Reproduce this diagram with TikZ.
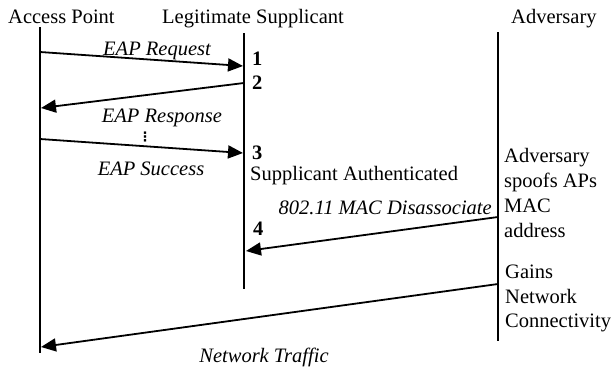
\documentclass[tikz,border=0pt]{standalone}
\usepackage{fontspec}
\setmainfont{Liberation Serif}
\newfontfamily\symfont{DejaVu Sans}
\usetikzlibrary{arrows.meta}
\begin{document}
\begin{tikzpicture}[x=1pt,y=-1pt,
  txt/.style={inner sep=0pt,font=\fontsize{20.5}{25}\selectfont},
  lbl/.style={txt,font=\fontsize{20.5}{25}\selectfont\itshape},
  num/.style={txt,font=\fontsize{20.5}{25}\selectfont\bfseries},
  life/.style={line width=2.6pt},
  msg/.style={line width=1.8pt,-{Triangle[length=15pt,width=13pt]}}]
\useasboundingbox (0,0) rectangle (616,367);
% headers
\node[txt,anchor=base west] (hap) at (8,23) {Access Point};
\node[txt,anchor=base west] (hsu) at (162,23) {Legitimate Supplicant};
\node[txt,anchor=base west] (had) at (511,23) {Adversary};
% lifelines
\coordinate (apT) at (40,27);
\coordinate (apB) at (40,353);
\coordinate (suT) at (244,33);
\coordinate (suB) at (244,289);
\coordinate (adT) at (498,32);
\coordinate (adB) at (498,341);
\draw[life] (apT) -- (apB);
\draw[life] (suT) -- (suB);
\draw[life] (adT) -- (adB);
% message points
\coordinate (m1s) at (40,52);  \coordinate (m1e) at (243,66);
\coordinate (m2s) at (244,83); \coordinate (m2e) at (41,108);
\coordinate (m3s) at (40,139); \coordinate (m3e) at (243,153);
\coordinate (m4s) at (498,217); \coordinate (m4e) at (246,251);
\coordinate (m5s) at (498,284); \coordinate (m5e) at (41,347);
\draw[msg] (m1s) -- (m1e);
\draw[msg] (m2s) -- (m2e);
\draw[msg] (m3s) -- (m3e);
\draw[msg] (m4s) -- (m4e);
\draw[msg] (m5s) -- (m5e);
% labels
\node[lbl,anchor=base] (l1) at (157,55) {EAP Request};
\node[lbl,anchor=base] (l2) at (162,122) {EAP Response};
\node[inner sep=0pt,anchor=center] (dots) at (145,137) {\symfont\fontsize{13}{13}\selectfont\bfseries ⋮};
\node[lbl,anchor=base] (l3) at (151,175) {EAP Success};
\node[lbl,anchor=base east] (l4) at (492,214) {802.11 MAC Disassociate};
\node[lbl,anchor=base] (l5) at (264,362) {Network Traffic};
% numbers
\node[num,anchor=base west] (n1) at (252,65) {1};
\node[num,anchor=base west] (n2) at (252,89) {2};
\node[num,anchor=base west] (n3) at (252,159) {3};
\node[num,anchor=base west] (n4) at (253,235) {4};
\node[txt,anchor=base west] (auth) at (250,180) {Supplicant Authenticated};
% adversary notes
\node[txt,anchor=base west] (a1) at (504,162) {Adversary};
\node[txt,anchor=base west] (a2) at (504,187) {spoofs APs};
\node[txt,anchor=base west] (a3) at (504,212) {MAC};
\node[txt,anchor=base west] (a4) at (504,237) {address};
\node[txt,anchor=base west] (g1) at (505,278) {Gains};
\node[txt,anchor=base west] (g2) at (505,303) {Network};
\node[txt,anchor=base west] (g3) at (505,327) {Connectivity};
\end{tikzpicture}
\end{document}
